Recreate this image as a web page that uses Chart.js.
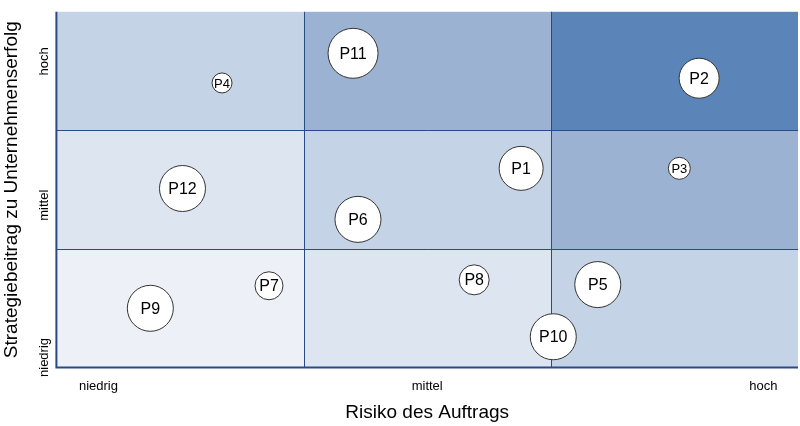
<!DOCTYPE html>
<html><head><meta charset="utf-8">
<script src="https://cdn.jsdelivr.net/npm/chart.js@4/dist/chart.umd.min.js"></script>
<style>html,body{margin:0;padding:0;background:#fff}#w{width:800px;height:426px}</style>
</head><body><div id="w"><canvas id="c"></canvas></div>
<script>
const projectLabels = ["P1","P2","P3","P4","P5","P6","P7","P8","P9","P10","P11","P12"];
const riskValues    = [1.88,2.60,2.52,0.67,2.19,1.22,0.86,1.69,0.38,2.01,1.20,0.51];
const strategyValues= [1.68,2.44,1.68,2.40,0.70,1.25,0.69,0.74,0.50,0.26,2.65,1.51];
const bubbleSizes   = [22,20,11,10,23,23,14,15,23,23,25,23];
const xTickLabels = ["niedrig","mittel","hoch"];
const yTickLabels = ["niedrig","mittel","hoch"];
const xTickPos = [0.17,1.5,2.86];
const yTickPos = [0.25,1.5,2.7];
const cellColors = [ // row 0 = bottom
  ["#edf1f7","#dde5f0","#c5d3e6"],
  ["#dde5f0","#c5d3e6","#9bb2d2"],
  ["#c5d3e6","#9bb2d2","#5b84b8"]
];
const cells = {
  id:'cells',
  beforeDatasetsDraw(ch){
    const {ctx,scales:{x,y}}=ch;
    for(let r=0;r<3;r++)for(let c=0;c<3;c++){
      const x0=x.getPixelForValue(c),x1=x.getPixelForValue(c+1);
      const y0=y.getPixelForValue(r+1),y1=y.getPixelForValue(r);
      ctx.fillStyle=cellColors[r][c];ctx.fillRect(x0,y0,x1-x0,y1-y0);
    }
    ctx.strokeStyle="#2a4a86";ctx.lineWidth=1;
    for(let i=1;i<3;i++){
      const px=Math.round(x.getPixelForValue(i))+0.5;
      ctx.beginPath();ctx.moveTo(px,y.top);ctx.lineTo(px,y.bottom);ctx.stroke();
      const py=Math.round(y.getPixelForValue(i))+0.5;
      ctx.beginPath();ctx.moveTo(x.left,py);ctx.lineTo(x.right,py);ctx.stroke();
    }
    ctx.lineWidth=2;ctx.beginPath();ctx.moveTo(x.left,y.top);ctx.lineTo(x.left,y.bottom);ctx.lineTo(x.right,y.bottom);ctx.stroke();
  },
  afterDatasetsDraw(ch){
    const {ctx}=ch;const meta=ch.getDatasetMeta(0);
    ctx.fillStyle="#000";ctx.textAlign="center";ctx.textBaseline="middle";
    meta.data.forEach((el,i)=>{
      const r=bubbleSizes[i];
      ctx.font=(r<13?13:16)+"px 'Liberation Sans', Arial, sans-serif";
      ctx.fillText(projectLabels[i],el.x,el.y+1);
    });
  }
};
new Chart(document.getElementById('c'),{
  type:'bubble',
  data:{datasets:[{data:riskValues.map((v,i)=>({x:v,y:strategyValues[i],r:bubbleSizes[i]})),
    backgroundColor:"#ffffff",borderColor:"#333",borderWidth:1,clip:false}]},
  options:{responsive:true,maintainAspectRatio:false,animation:false,
    layout:{autoPadding:false,padding:{top:5,right:2,left:0,bottom:2}},
    plugins:{legend:{display:false},tooltip:{enabled:false}},
    scales:{
      x:{min:0,max:3,grid:{display:false},border:{display:false},
        afterBuildTicks(s){s.ticks=xTickPos.map(v=>({value:v}));},
        ticks:{autoSkip:false,maxRotation:0,color:"#000",font:{size:13,family:"'Liberation Sans', Arial"},padding:3,
          callback:(v,i)=>xTickLabels[i]},
        title:{display:true,text:"Risiko des Auftrags",color:"#000",font:{size:19,family:"'Liberation Sans', Arial"},padding:{top:4,bottom:0}}},
      y:{min:0,max:3,grid:{display:false},border:{display:false},
        afterBuildTicks(s){s.ticks=yTickPos.map(v=>({value:v}));},
        ticks:{autoSkip:false,minRotation:90,maxRotation:90,color:"#000",font:{size:13,family:"'Liberation Sans', Arial"},padding:4,
          callback:(v,i)=>yTickLabels[i]},
        title:{display:true,text:"Strategiebeitrag zu Unternehmenserfolg",color:"#000",font:{size:19,family:"'Liberation Sans', Arial"},padding:{top:0,bottom:2}}}
    }},
  plugins:[cells]
});
</script></body></html>
